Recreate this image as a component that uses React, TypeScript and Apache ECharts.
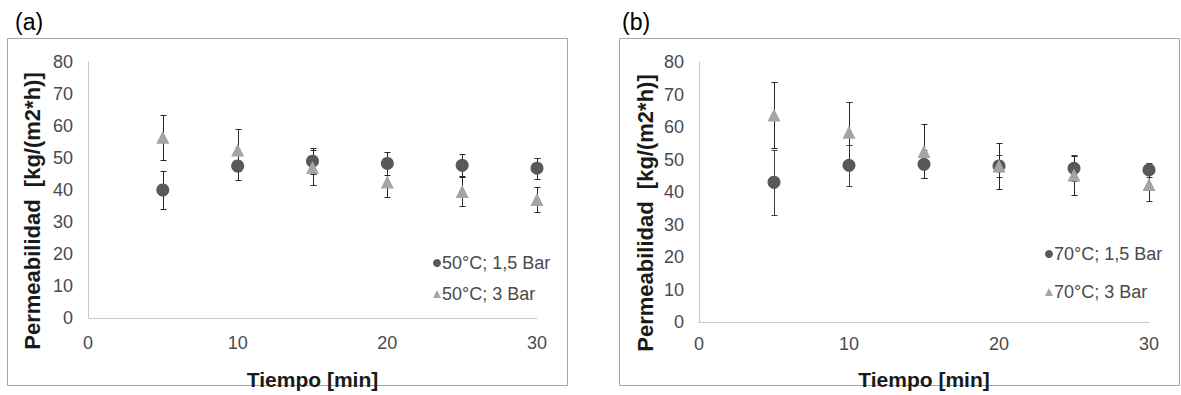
import React, { useEffect, useRef } from "react";
import * as echarts from "echarts";

const times = [5, 10, 15, 20, 25, 30];
const xTicks = [0, 10, 20, 30];
const a15 = [40, 47.5, 49, 48.3, 47.7, 46.8];
const a15err = [6, 4.3, 4, 3.6, 3.4, 3.3];
const a3 = [56.5, 52.5, 47, 42.5, 39.5, 37];
const a3err = [7, 6.7, 5.5, 4.6, 4.5, 3.8];
const b15 = [43, 48.2, 48.5, 48, 47.3, 46.8];
const b15err = [10, 6.2, 4.3, 3.5, 4, 2.2];
const b3 = [63.7, 58.4, 52.5, 48, 45.2, 42.3];
const b3err = [10.3, 9.3, 8.3, 7, 6, 5];

const names = {
  a15: "50°C; 1,5 Bar",
  a3: "50°C; 3 Bar",
  b15: "70°C; 1,5 Bar",
  b3: "70°C; 3 Bar",
};

const FONT = "'Liberation Sans', Arial, sans-serif";
const DARK = "#595959";
const LIGHT = "#A5A5A5";
const TEXT = "#4a4a4a";

function errData(v: number[], e: number[]) {
  return times.map((t, i) => [t, v[i] - e[i], v[i] + e[i]]);
}

function errSeries(name: string, idx: number, v: number[], e: number[], color: string) {
  return {
    type: "custom",
    name,
    xAxisIndex: idx,
    yAxisIndex: idx,
    z: 1,
    data: errData(v, e),
    encode: { x: 0, y: [1, 2] },
    renderItem: (params: any, api: any) => {
      const x = api.value(0);
      const pLo = api.coord([x, api.value(1)]);
      const pHi = api.coord([x, api.value(2)]);
      const cx = Math.round(pHi[0]) + 0.5;
      const yh = Math.round(pHi[1]) + 0.5;
      const yl = Math.round(pLo[1]) + 0.5;
      const w = 3;
      const style = { stroke: color, lineWidth: 1 };
      return {
        type: "group",
        children: [
          { type: "line", shape: { x1: cx, y1: yh, x2: cx, y2: yl }, style },
          { type: "line", shape: { x1: cx - w, y1: yh, x2: cx + w, y2: yh }, style },
          { type: "line", shape: { x1: cx - w, y1: yl, x2: cx + w, y2: yl }, style },
        ],
      };
    },
  };
}

function scatter(name: string, idx: number, v: number[], symbol: string, color: string) {
  return {
    type: "scatter",
    name,
    xAxisIndex: idx,
    yAxisIndex: idx,
    z: 3,
    symbol,
    symbolSize: 13,
    itemStyle: { color, opacity: 1 },
    data: times.map((t, i) => [t, v[i]]),
  };
}

function xAxis(idx: number, margin: number, gap: number) {
  return {
    type: "value",
    gridIndex: idx,
    min: 0,
    max: 30,
    interval: 10,
    name: "Tiempo [min]",
    nameLocation: "middle",
    nameGap: gap,
    nameTextStyle: { fontFamily: FONT, fontSize: 21, fontWeight: "bold", color: "#1a1a1a" },
    axisLine: { show: true, lineStyle: { color: "#C8C8C8", width: 1 } },
    axisTick: { show: false },
    splitLine: { show: false },
    axisLabel: {
      margin,
      fontFamily: FONT,
      fontSize: 18,
      color: TEXT,
      customValues: xTicks,
    },
  };
}

function yAxis(idx: number) {
  return {
    type: "value",
    gridIndex: idx,
    min: 0,
    max: 80,
    interval: 10,
    axisLine: { show: true, lineStyle: { color: "#C8C8C8", width: 1 } },
    axisTick: { show: false },
    splitLine: { show: false },
    axisLabel: { margin: 15, fontFamily: FONT, fontSize: 18, color: TEXT },
  };
}

function legend(left: number, top: number, gap: number, n1: string, n2: string) {
  return {
    orient: "vertical",
    left,
    top,
    itemWidth: 8,
    itemHeight: 8,
    itemGap: gap,
    textStyle: { fontFamily: FONT, fontSize: 18, color: TEXT, padding: [0, 0, 0, -4] },
    data: [
      { name: n1, icon: "circle", itemStyle: { color: DARK } },
      { name: n2, icon: "triangle", itemStyle: { color: LIGHT } },
    ],
  };
}

export default function App() {
  const ref = useRef<HTMLDivElement>(null);
  useEffect(() => {
    if (!ref.current) return;
    const chart = echarts.init(ref.current, null, { renderer: "svg" });
    chart.setOption({
      animation: false,
      backgroundColor: "#ffffff",
      grid: [
        { left: 88, top: 62, width: 449, height: 265 },
        { left: 699, top: 62, width: 450, height: 271 },
      ],
      xAxis: [xAxis(0, 16, 51), xAxis(1, 13, 47)],
      yAxis: [yAxis(0), yAxis(1)],
      legend: [
        legend(428, 249, 13, names.a15, names.a3),
        legend(1040, 240, 20, names.b15, names.b3),
      ],
      graphic: [
        { type: "rect", shape: { x: 7.5, y: 38.5, width: 560, height: 347 }, style: { fill: "none", stroke: "#A6A6A6", lineWidth: 1 }, silent: true },
        { type: "rect", shape: { x: 619.5, y: 38.5, width: 560, height: 347 }, style: { fill: "none", stroke: "#A6A6A6", lineWidth: 1 }, silent: true },
        { type: "text", x: 15, y: 10, style: { text: "(a)", fontFamily: FONT, fontSize: 23, fill: "#000" } },
        { type: "text", x: 622, y: 10, style: { text: "(b)", fontFamily: FONT, fontSize: 23, fill: "#000" } },
        {
          type: "text", x: 32, y: 211, rotation: Math.PI / 2,
          style: { text: "Permeabilidad  [kg/(m2*h)]", fontFamily: FONT, fontSize: 22, fontWeight: "bold", fill: "#1a1a1a", align: "center", verticalAlign: "middle" },
        },
        {
          type: "text", x: 645, y: 213, rotation: Math.PI / 2,
          style: { text: "Permeabilidad  [kg/(m2*h)]", fontFamily: FONT, fontSize: 22, fontWeight: "bold", fill: "#1a1a1a", align: "center", verticalAlign: "middle" },
        },
      ],
      series: [
        errSeries("err-a15", 0, a15, a15err, "#262626"),
        errSeries("err-a3", 0, a3, a3err, "#262626"),
        errSeries("err-b15", 1, b15, b15err, "#404040"),
        errSeries("err-b3", 1, b3, b3err, "#262626"),
        scatter(names.a15, 0, a15, "circle", DARK),
        scatter(names.a3, 0, a3, "triangle", LIGHT),
        scatter(names.b15, 1, b15, "circle", DARK),
        scatter(names.b3, 1, b3, "triangle", LIGHT),
      ],
    });
    return () => chart.dispose();
  }, []);
  return (
    <div
      ref={ref}
      style={{ position: "fixed", left: 0, top: 0, width: 1181, height: 395, background: "#fff" }}
    />
  );
}
